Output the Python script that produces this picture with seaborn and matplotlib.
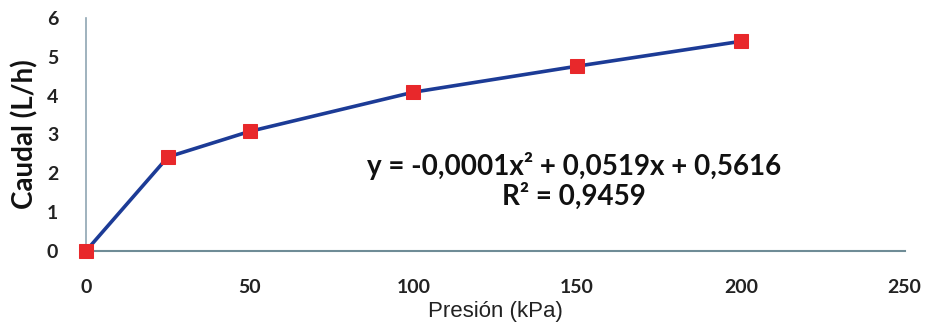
import matplotlib
matplotlib.use("Agg")
import matplotlib.pyplot as plt
import seaborn as sns
import pandas as pd

presion = [0, 25, 50, 100, 150, 200]
caudal = [0.0, 2.42, 3.08, 4.09, 4.76, 5.40]
x_ticks = [0, 50, 100, 150, 200, 250]
y_ticks = [0, 1, 2, 3, 4, 5, 6]
equation = "y = -0,0001x² + 0,0519x + 0,5616\nR² = 0,9459"

sns.set_theme(style="white")
plt.rcParams['font.family'] = ['Lato', 'DejaVu Sans']

df = pd.DataFrame({"Presión": presion, "Caudal": caudal})

fig = plt.figure(figsize=(9.25, 3.28), dpi=100)
ax = fig.add_axes([0.093, 0.235, 0.885, 0.71])

sns.lineplot(data=df, x="Presión", y="Caudal", ax=ax, color="#1c3b96",
             linewidth=2.6, marker="s", markersize=10, markerfacecolor="#e8282b",
             markeredgecolor="#e8282b", zorder=3, clip_on=False)

ax.set_xlim(0, 250)
ax.set_ylim(0, 6)
ax.set_xticks(x_ticks)
ax.set_yticks(y_ticks)
ax.tick_params(axis="both", length=0, labelsize=14)
ax.tick_params(axis="x", pad=20)
ax.tick_params(axis="y", pad=20)
for lab in ax.get_xticklabels() + ax.get_yticklabels():
    lab.set_fontweight("bold")
    lab.set_color("#222222")

for s in ["top", "right"]:
    ax.spines[s].set_visible(False)
ax.spines["left"].set_color("#8fa6b3")
ax.spines["bottom"].set_color("#6f8c96")
ax.spines["left"].set_linewidth(1.2)
ax.spines["bottom"].set_linewidth(1.5)

ax.set_xlabel("Presión (kPa)", fontsize=16, family=["Liberation Sans", "DejaVu Sans"],
              color="#222222", labelpad=4)
ax.set_ylabel("Caudal (L/h)", fontsize=20, fontweight="bold", color="#111111", labelpad=6)

ax.text(149, 1.8, equation, ha="center", va="center", fontsize=20,
        fontweight="bold", color="#111111", linespacing=1.15)

fig.savefig("out.png", dpi=100)
